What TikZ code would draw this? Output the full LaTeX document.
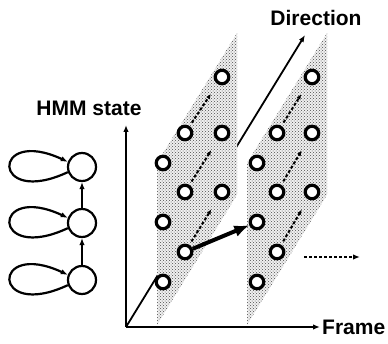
\documentclass[tikz,border=0pt]{standalone}
\usepackage{fontspec}
\newfontfamily\labelfont{Liberation Sans}
\usetikzlibrary{arrows.meta,patterns}

\begin{document}
\begin{tikzpicture}[x=1pt,y=1pt,>={Latex[length=7pt,width=5.5pt]},
  state/.style={circle,draw,fill=white,line width=3.2pt,minimum size=13.5pt,inner sep=0pt},
  hmm/.style={circle,draw,line width=2.2pt,minimum size=28pt,inner sep=0pt},
  lbl/.style={font=\labelfont\bfseries\fontsize{21}{25}\selectfont,inner sep=0pt},
  panel/.style={pattern=crosshatch dots,pattern color=black!70},
  search/.style={->,line width=2pt,dash pattern=on 3pt off 2pt,shorten <=4pt,shorten >=12pt,>={Latex[length=5pt,width=4.5pt]}}]
  \useasboundingbox (0,0) rectangle (388,343);
  % axes
  \coordinate (o) at (126,16);
  \coordinate (hend) at (126,218);
  \coordinate (fend) at (320,16);
  \coordinate (dend) at (305,308);
  \draw[->,line width=1.8pt] (o) -- (dend);
  \draw[->,line width=1.8pt] (o) -- (hend);
  \draw[->,line width=1.8pt] (o) -- (fend);
  \node[lbl] (hlbl) at (89,234.5) {HMM state};
  \node[lbl] (dlbl) at (316,325.5) {Direction};
  \node[lbl,anchor=west] (flbl) at (322,15.5) {Frame};
  % shaded planes
  \fill[black!6] (157,18) -- (157,180) -- (237,310) -- (237,148) -- cycle;
  \fill[panel] (157,18) -- (157,180) -- (237,310) -- (237,148) -- cycle;
  \fill[black!6] (247,18) -- (247,180) -- (327,310) -- (327,148) -- cycle;
  \fill[panel] (247,18) -- (247,180) -- (327,310) -- (327,148) -- cycle;
  % first frame
  \node[state] (a01) at (163,61) {};
  \node[state] (a02) at (163,121) {};
  \node[state] (a03) at (163,180) {};
  \node[state] (a11) at (185,91) {};
  \node[state] (a12) at (185,151) {};
  \node[state] (a13) at (185,210) {};
  \node[state] (a21) at (222,151) {};
  \node[state] (a22) at (222,210) {};
  \node[state] (a23) at (222,266) {};
  \draw[search] (a11) -- (a21);
  \draw[search] (a12) -- (a22);
  \draw[search] (a13) -- (a23);
  % second frame
  \node[state] (b01) at (257,61) {};
  \node[state] (b02) at (257,121) {};
  \node[state] (b03) at (257,180) {};
  \node[state] (b11) at (277,91) {};
  \node[state] (b12) at (277,151) {};
  \node[state] (b13) at (277,210) {};
  \node[state] (b21) at (312,151) {};
  \node[state] (b22) at (312,210) {};
  \node[state] (b23) at (312,266) {};
  \draw[search] (b11) -- (b21);
  \draw[search] (b12) -- (b22);
  \draw[search] (b13) -- (b23);
  \draw[->,line width=4pt,>={Latex[length=15pt,width=12pt]}] (a11) -- (b02);
  \coordinate (nfrom) at (304,86);
  \coordinate (nto) at (360,86);
  \draw[->,line width=1.8pt,dash pattern=on 3pt off 2pt] (nfrom) -- (nto);
  % left-to-right HMM
  \node[hmm] (h1) at (82,63) {};
  \node[hmm] (h2) at (82,120) {};
  \node[hmm] (h3) at (82,176) {};
  \draw[->,line width=1.8pt] (h1) -- (h2);
  \draw[->,line width=1.8pt] (h2) -- (h3);
  \draw[->,line width=2.2pt] (h1.200) .. controls +(205:85) and +(155:85) .. (h1.160);
  \draw[->,line width=2.2pt] (h2.200) .. controls +(205:85) and +(155:85) .. (h2.160);
  \draw[->,line width=2.2pt] (h3.200) .. controls +(205:85) and +(155:85) .. (h3.160);
\end{tikzpicture}
\end{document}
